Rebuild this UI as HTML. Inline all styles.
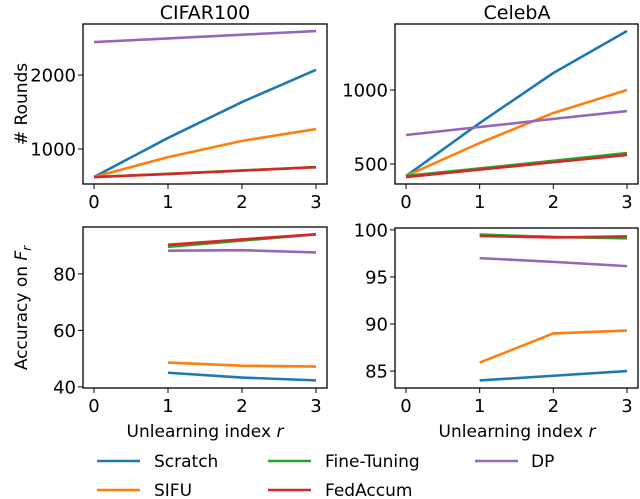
<!DOCTYPE html>
<html><head><meta charset="utf-8"><style>
body{margin:0;background:#fff}
svg{display:block;font-family:"DejaVu Sans","Liberation Sans",sans-serif}
</style></head><body>
<svg id="c" width="640" height="499" viewBox="0 0 640 499"></svg>
<script>
const xsIdx=[0,1,2,3];
const seriesNames=["Scratch","SIFU","Fine-Tuning","FedAccum","DP"];
const colors=["#1f77b4","#ff7f0e","#2ca02c","#d62728","#9467bd"];
// Rounds CIFAR100
const cifarScratch=[622,1150,1635,2070];
const cifarSifu=[622,890,1110,1270];
const cifarFine=[620,665,710,752];
const cifarFed=[620,662,708,757];
const cifarDP=[2446,2495,2545,2595];
// Rounds CelebA
const celebScratch=[419,777,1115,1399];
const celebSifu=[419,642,845,1000];
const celebFine=[420,470,522,574];
const celebFed=[412,462,512,561];
const celebDP=[696,750,805,858];
// Accuracy CIFAR100 (r=1..3)
const accIdx=[1,2,3];
const accCifarScratch=[45.0,43.3,42.3];
const accCifarSifu=[48.6,47.5,47.2];
const accCifarFine=[89.6,91.8,94.0];
const accCifarFed=[90.3,92.2,94.0];
const accCifarDP=[88.2,88.4,87.6];
// Accuracy CelebA
const accCelebScratch=[84.0,84.5,85.0];
const accCelebSifu=[85.9,89.0,89.3];
const accCelebFine=[99.5,99.25,99.1];
const accCelebFed=[99.35,99.2,99.3];
const accCelebDP=[97.0,96.6,96.15];
const xTicks=[0,1,2,3];
const ticksRoundsCifar=[1000,2000];
const ticksRoundsCeleb=[500,1000];
const ticksAccCifar=[40,60,80];
const ticksAccCeleb=[85,90,95,100];

const svg=document.getElementById('c');
const NS="http://www.w3.org/2000/svg";
function el(t,a,p){const e=document.createElementNS(NS,t);for(const k in a)e.setAttribute(k,a[k]);(p||svg).appendChild(e);return e;}

function panel(name,L,R,T,B,ymin,ymax,yt,xv,data){
  const g=el('g',{});
  
  
  const x0=L+11,ux=(R-L-22)/3;
  const sx=v=>x0+v*ux, sy=v=>B-(v-ymin)/(ymax-ymin)*(B-T);
  data.forEach((d,i)=>{
    const p=el('polyline',{points:d.map((v,j)=>sx(xv[j])+','+sy(v)).join(' '),fill:'none',stroke:colors[i],'stroke-width':2.6,'stroke-linejoin':'round'},g);
    
    
  });
  const f=el('rect',{x:L,y:T,width:R-L,height:B-T,fill:'none',stroke:'#000','stroke-width':1.3},g);
  
  
  xTicks.forEach(t=>{
    el('line',{x1:sx(t),x2:sx(t),y1:B,y2:B+5,stroke:'#000','stroke-width':1},g);
    const tx=el('text',{x:sx(t),y:B+24,'text-anchor':'middle','font-size':18},g);
    tx.textContent=t;
    
    
  });
  yt.forEach(t=>{
    el('line',{x1:L-5,x2:L,y1:sy(t),y2:sy(t),stroke:'#000','stroke-width':1},g);
    const tx=el('text',{x:L-7,y:sy(t)+6.5,'text-anchor':'end','font-size':18},g);
    tx.textContent=t;
    
    
  });
}
panel('rounds-cifar100',83,327,24,184,527,2690,ticksRoundsCifar,xsIdx,[cifarScratch,cifarSifu,cifarFine,cifarFed,cifarDP]);
panel('rounds-celeba',395,638,24,184,365,1446,ticksRoundsCeleb,xsIdx,[celebScratch,celebSifu,celebFine,celebFed,celebDP]);
panel('accuracy-cifar100',83,327,227,388,39.6,96.6,ticksAccCifar,accIdx,[accCifarScratch,accCifarSifu,accCifarFine,accCifarFed,accCifarDP]);
panel('accuracy-celeba',395,638,228,388,83.2,100.2,ticksAccCeleb,accIdx,[accCelebScratch,accCelebSifu,accCelebFine,accCelebFed,accCelebDP]);
</script>
<svg width="640" height="499" style="position:absolute;left:0;top:0" font-family="DejaVu Sans, Liberation Sans, sans-serif">
<text x="205" y="19" text-anchor="middle" font-size="19">CIFAR100</text>
<text x="517" y="19" text-anchor="middle" font-size="19">CelebA</text>
<text transform="translate(27,104) rotate(-90)" text-anchor="middle" font-size="17"># Rounds</text>
<text transform="translate(27,308) rotate(-90)" text-anchor="middle" font-size="17">Accuracy on <tspan font-style="italic">F</tspan><tspan font-style="italic" font-size="12" dy="4">r</tspan></text>
<text x="205" y="437" text-anchor="middle" font-size="17">Unlearning index <tspan font-style="italic">r</tspan></text>
<text x="517" y="437" text-anchor="middle" font-size="17">Unlearning index <tspan font-style="italic">r</tspan></text>
<g font-size="17">
<line x1="97" x2="140" y1="461" y2="461" stroke="#1f77b4" stroke-width="2.6"/><text x="154" y="467">Scratch</text>
<line x1="97" x2="140" y1="490" y2="490" stroke="#ff7f0e" stroke-width="2.6"/><text x="154" y="496">SIFU</text>
<line x1="268" x2="311" y1="461" y2="461" stroke="#2ca02c" stroke-width="2.6"/><text x="325" y="467">Fine-Tuning</text>
<line x1="268" x2="311" y1="490" y2="490" stroke="#d62728" stroke-width="2.6"/><text x="325" y="496">FedAccum</text>
<line x1="475" x2="518" y1="461" y2="461" stroke="#9467bd" stroke-width="2.6"/><text x="531" y="467">DP</text>
</g>
</svg>
</body></html>
